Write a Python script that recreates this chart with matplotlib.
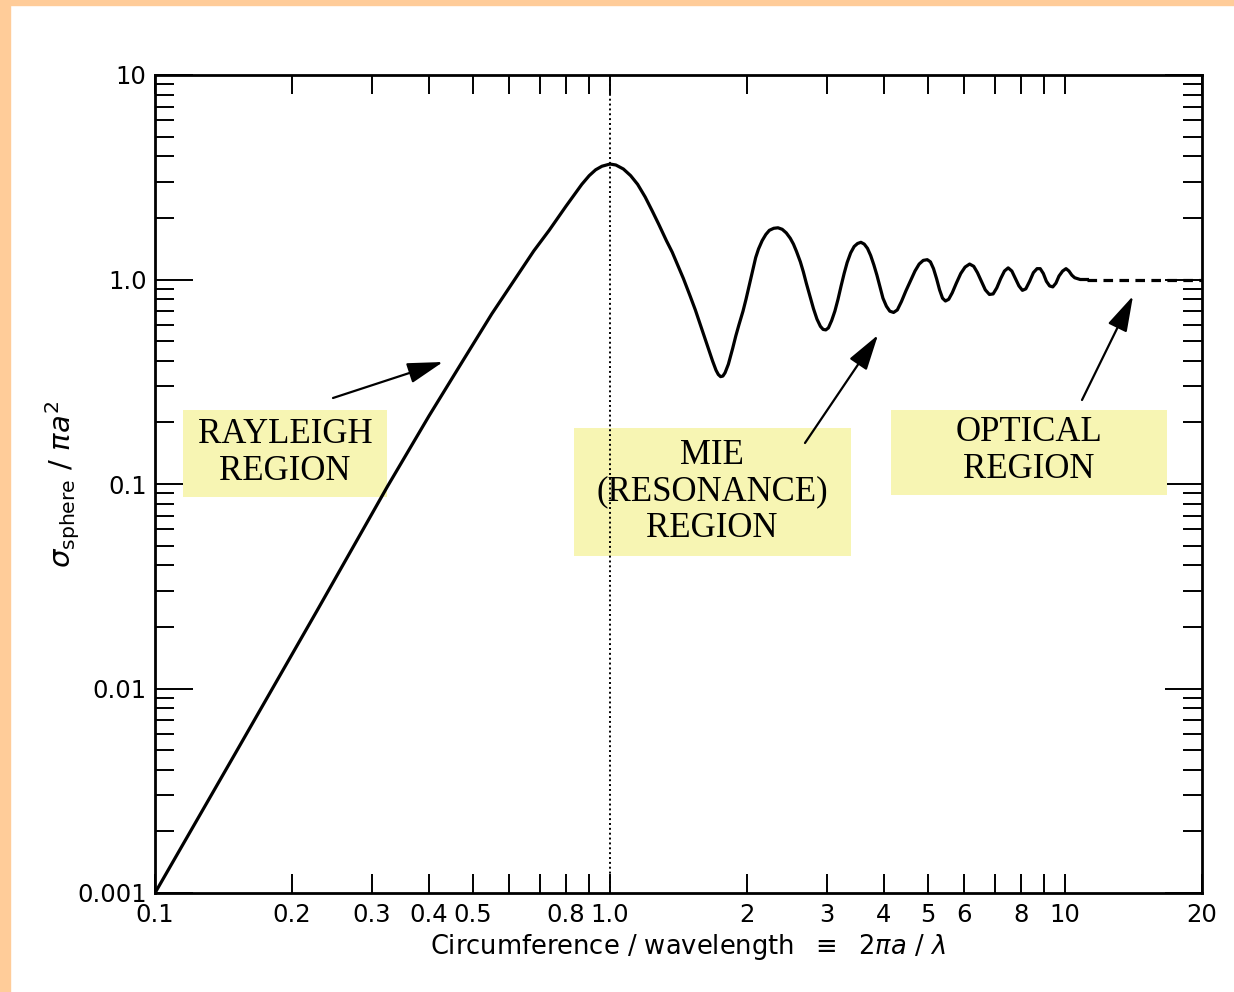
import numpy as np
import matplotlib
matplotlib.use('Agg')
import matplotlib.pyplot as plt
from matplotlib.patches import Rectangle
from matplotlib.ticker import LogLocator, NullLocator, NullFormatter

W, H = 1234, 992

# curve (x = 2*pi*a/lambda, y = sigma/(pi a^2))
size_param = [0.1, 0.15, 0.227, 0.324, 0.40, 0.478, 0.55, 0.623, 0.68, 0.735,
              0.80, 0.867, 0.90, 0.93, 0.96, 1.0, 1.03, 1.07, 1.11, 1.15,
              1.195, 1.24, 1.28, 1.33, 1.37, 1.41, 1.45, 1.50, 1.54, 1.58,
              1.61, 1.65, 1.68, 1.71, 1.73, 1.75, 1.77, 1.79, 1.82, 1.86,
              1.89, 1.92, 1.96, 1.99, 2.03, 2.06, 2.09, 2.12, 2.16, 2.2,
              2.24, 2.29, 2.34, 2.39, 2.44, 2.49, 2.53, 2.57, 2.62, 2.66,
              2.70, 2.75, 2.80, 2.85, 2.90, 2.94, 2.98, 3.02, 3.07, 3.12,
              3.17, 3.22, 3.27, 3.32, 3.38, 3.44, 3.50, 3.56, 3.62, 3.68,
              3.74, 3.80, 3.86, 3.92, 3.98, 4.05, 4.12, 4.20, 4.28, 4.37,
              4.47, 4.58, 4.68, 4.78, 4.88, 4.98, 5.06, 5.14, 5.22, 5.30,
              5.38, 5.46, 5.55, 5.65, 5.77, 5.90, 6.03, 6.17, 6.30, 6.42,
              6.55, 6.68, 6.82, 6.95, 7.08, 7.22, 7.36, 7.50, 7.64, 7.78,
              7.92, 8.06, 8.20, 8.36, 8.52, 8.68, 8.82, 8.96, 9.10, 9.25,
              9.40, 9.55, 9.70, 9.88, 10.05, 10.2, 10.35, 10.5, 10.8, 11.2]
rcs = [0.001, 0.0048, 0.024, 0.097, 0.215, 0.41, 0.68, 1.03, 1.38, 1.74,
       2.28, 2.92, 3.22, 3.44, 3.58, 3.67, 3.63, 3.47, 3.22, 2.92,
       2.53, 2.15, 1.86, 1.55, 1.36, 1.17, 1.01, 0.83, 0.71, 0.60,
       0.53, 0.45, 0.40, 0.36, 0.343, 0.335, 0.337, 0.35, 0.385, 0.46,
       0.53, 0.60, 0.70, 0.80, 0.97, 1.12, 1.28, 1.41, 1.55, 1.66,
       1.74, 1.78, 1.79, 1.76, 1.69, 1.59, 1.49, 1.37, 1.22, 1.09,
       0.96, 0.83, 0.72, 0.64, 0.59, 0.57, 0.567, 0.58, 0.63, 0.70,
       0.80, 0.93, 1.07, 1.21, 1.35, 1.45, 1.50, 1.52, 1.49, 1.42,
       1.31, 1.18, 1.05, 0.92, 0.81, 0.74, 0.70, 0.69, 0.71, 0.78,
       0.88, 0.99, 1.10, 1.19, 1.24, 1.25, 1.22, 1.13, 1.01, 0.89,
       0.81, 0.785, 0.80, 0.86, 0.96, 1.07, 1.15, 1.19, 1.16, 1.08,
       0.98, 0.89, 0.845, 0.85, 0.91, 1.01, 1.10, 1.14, 1.10, 1.01,
       0.93, 0.885, 0.90, 0.98, 1.08, 1.13, 1.13, 1.07, 0.98, 0.93,
       0.92, 0.96, 1.04, 1.10, 1.13, 1.10, 1.05, 1.02, 1.0, 1.0]

optical_x = [11.2, 20]
optical_y = [1.0, 1.0]

xtick_vals = [0.1, 0.2, 0.3, 0.4, 0.5, 0.6, 0.7, 0.8, 0.9, 1.0,
              2, 3, 4, 5, 6, 7, 8, 9, 10, 20]
xtick_labels = ['0.1', '0.2', '0.3', '0.4', '0.5', '', '', '0.8', '', '1.0',
                '2', '3', '4', '5', '6', '', '8', '', '10', '20']
ytick_vals = [0.001, 0.01, 0.1, 1.0, 10]
ytick_labels = ['0.001', '0.01', '0.1', '1.0', '10']


def fx(px):
    return px / W


def fy(py):
    return 1 - py / H


fig = plt.figure(figsize=(W / 100, H / 100), dpi=100)
fig.patch.set_facecolor('white')
# orange frame of the slide
fig.patches.append(Rectangle((0, 0), fx(10), 1, transform=fig.transFigure,
                             color='#FFCC99', zorder=-1))
fig.patches.append(Rectangle((0, fy(5)), 1, 5 / H, transform=fig.transFigure,
                             color='#FFCC99', zorder=-1))

ax = fig.add_axes([fx(155), fy(893), fx(1202) - fx(155), fy(75) - fy(893)])
ax.set_xscale('log')
ax.set_yscale('log')
ax.set_xlim(0.1, 20)
ax.set_ylim(0.001, 10)

ax.plot(size_param, rcs, color='black', lw=2.3, zorder=3,
        solid_joinstyle='round')
ax.plot(optical_x, optical_y, color='black', lw=2.3, ls=(0, (3, 2)), zorder=3)
ax.axvline(1.0, color='black', lw=1.4, ls=(0, (1, 1.5)), zorder=5)

for s in ax.spines.values():
    s.set_linewidth(2)

ax.set_xticks(xtick_vals, labels=xtick_labels)
ax.xaxis.set_minor_locator(NullLocator())
ax.set_yticks(ytick_vals, labels=ytick_labels)
ax.yaxis.set_minor_locator(LogLocator(base=10, subs=np.arange(2, 10)))
ax.yaxis.set_minor_formatter(NullFormatter())

ax.tick_params(axis='x', which='major', direction='in', length=14, width=1.4,
               top=True, bottom=True, labelsize=17.5, pad=7)
ax.tick_params(axis='y', which='major', direction='in', length=27, width=1.4,
               left=True, right=True, labelsize=17.5, pad=6)
ax.tick_params(axis='y', which='minor', direction='in', length=14, width=1.4,
               left=True, right=True)

ax.set_xlabel(r'Circumference / wavelength  $\equiv$  2$\pi a$ / $\lambda$',
              fontsize=18.5)
ax.xaxis.set_label_coords(0.509, -0.048)
ax.set_ylabel(r'$\sigma_{\mathrm{sphere}}$ / $\pi a^2$', fontsize=21)
ax.yaxis.set_label_coords(-0.07, 0.5)

# region labels on pale yellow boxes
box_color = '#F7F5B3'
boxes = [(183, 410, 387, 497), (574, 428, 851, 556), (891, 410, 1167, 495)]
for x0, y0, x1, y1 in boxes:
    ax.add_patch(Rectangle((fx(x0), fy(y1)), fx(x1) - fx(x0), fy(y0) - fy(y1),
                           transform=fig.transFigure, color=box_color,
                           zorder=2, lw=0))

serif = dict(family='Liberation Serif', fontsize=25, ha='center',
             va='center', linespacing=1.15, zorder=6)
ax.text(fx(285), fy(453), 'RAYLEIGH\nREGION', transform=fig.transFigure, **serif)
ax.text(fx(712), fy(492), 'MIE\n(RESONANCE)\nREGION',
        transform=fig.transFigure, **serif)
ax.text(fx(1029), fy(451), 'OPTICAL\nREGION', transform=fig.transFigure, **serif)

arrows = [((333, 398), (443, 362)), ((805, 443), (878, 335)),
          ((1082, 400), (1133, 296))]
for (x1, y1), (x2, y2) in arrows:
    ax.annotate('', xy=(fx(x2), fy(y2)), xytext=(fx(x1), fy(y1)),
                xycoords='figure fraction', textcoords='figure fraction',
                arrowprops=dict(arrowstyle='-|>,head_length=1.1,head_width=0.32',
                                color='black', lw=1.6, mutation_scale=20,
                                shrinkA=0, shrinkB=0))

fig.savefig('out.png', dpi=100)
